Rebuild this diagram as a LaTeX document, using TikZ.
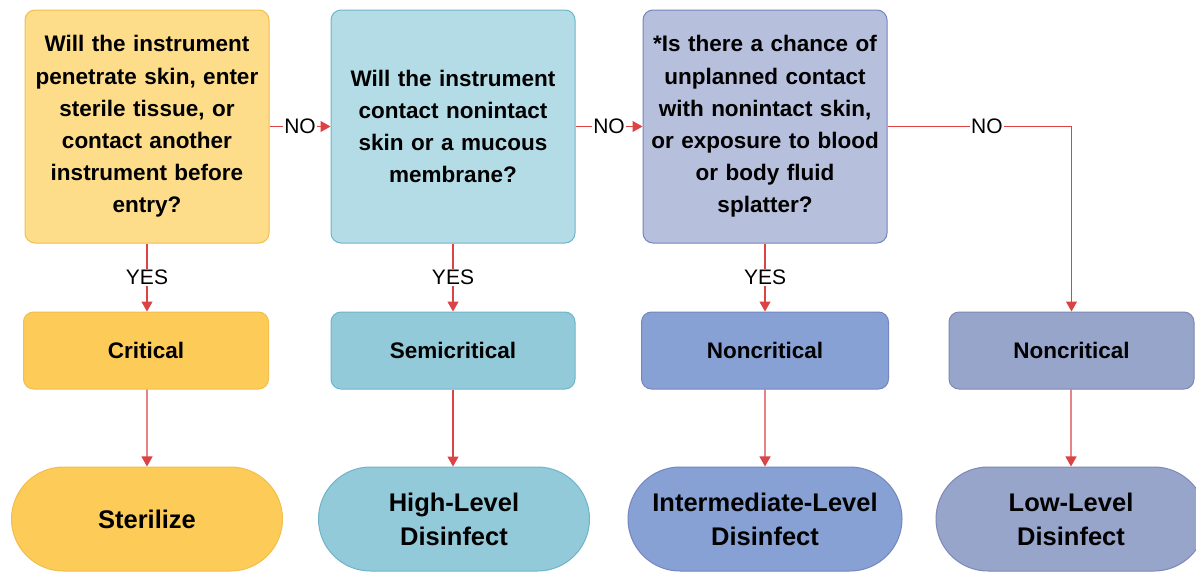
\documentclass[tikz,border=0pt]{standalone}
\usepackage{fontspec}
\setmainfont{Liberation Sans}
\usetikzlibrary{arrows.meta,shapes.misc}
\definecolor{yq}{HTML}{FDDC8A}
\definecolor{yb}{HTML}{F2BE4C}
\definecolor{yc}{HTML}{FDCB58}
\definecolor{bq}{HTML}{B4DCE6}
\definecolor{bb}{HTML}{6FB4C8}
\definecolor{bc}{HTML}{92CAD9}
\definecolor{pq}{HTML}{B6BFDC}
\definecolor{pb}{HTML}{7485BF}
\definecolor{pc}{HTML}{87A1D5}
\definecolor{gc}{HTML}{98A5CB}
\definecolor{gb}{HTML}{7C88B5}
\definecolor{ln}{HTML}{DB4344}
\tikzset{
  qbox/.style={draw, rounded corners=10pt, line width=1pt, minimum width=244pt, minimum height=233pt, inner sep=0pt, text width=242pt, align=center, font=\fontsize{22.5}{32.2}\selectfont\bfseries},
  cbox/.style={draw, rounded corners=10pt, line width=1pt, minimum height=77pt, inner sep=0pt, align=center, font=\fontsize{22.5}{26}\selectfont\bfseries},
  sbox/.style={draw, rounded rectangle, line width=1pt, minimum height=104pt, inner sep=0pt, align=center, font=\fontsize{25.5}{34}\selectfont\bfseries},
  conn/.style={draw=ln, line width=1.1pt, -{Triangle[length=10pt,width=11pt]}},
  lbl/.style={fill=white, inner sep=1.5pt, font=\fontsize{21}{24}\selectfont}
}
\begin{document}
\begin{tikzpicture}[x=1pt,y=-1pt]
\useasboundingbox[fill=white] (0,0) rectangle (1196,571);
\node[qbox, fill=yq, draw=yb] (q1) at (147,126.5) {Will the instrument\\penetrate skin, enter\\sterile tissue, or\\contact another\\instrument before\\entry?};
\node[qbox, fill=bq, draw=bb] (q2) at (453,126.5) {Will the instrument\\contact nonintact\\skin or a mucous\\membrane?};
\node[qbox, fill=pq, draw=pb] (q3) at (765,126.5) {*Is there a chance of\\unplanned contact\\with nonintact skin,\\or exposure to blood\\or body fluid\\splatter?};
\node[cbox, fill=yc, draw=yb, minimum width=245pt] (c1) at (146,350.5) {Critical};
\node[cbox, fill=bc, draw=bb, minimum width=244pt] (c2) at (453,350.5) {Semicritical};
\node[cbox, fill=pc, draw=pb, minimum width=247pt] (c3) at (765,350.5) {Noncritical};
\node[cbox, fill=gc, draw=gb, minimum width=245pt] (c4) at (1071.5,350.5) {Noncritical};
\node[sbox, fill=yc, draw=yb, minimum width=271pt] (s1) at (147,519) {Sterilize};
\node[sbox, fill=bc, draw=bb, minimum width=271pt] (s2) at (454,519) {High-Level\\Disinfect};
\node[sbox, fill=pc, draw=pb, minimum width=274pt] (s3) at (765,519) {Intermediate-Level\\Disinfect};
\node[sbox, fill=gc, draw=gb, minimum width=270pt] (s4) at (1071,519) {Low-Level\\Disinfect};
\draw[conn] (q1) -- node[lbl]{NO} (q2);
\draw[conn] (q2) -- node[lbl]{NO} (q3);
\draw[conn] (q3.east) -| node[lbl,pos=0.27]{NO} (c4.north);
\draw[conn] (q1) -- node[lbl]{YES} (c1.north -| q1);
\draw[conn] (q2) -- node[lbl]{YES} (c2);
\draw[conn] (q3) -- node[lbl]{YES} (c3);
\draw[conn] (c1.south -| q1) -- (s1);
\draw[conn] (c2) -- (s2.north -| c2);
\draw[conn] (c3) -- (s3);
\draw[conn] (c4.south -| s4) -- (s4);
\end{tikzpicture}
\end{document}
